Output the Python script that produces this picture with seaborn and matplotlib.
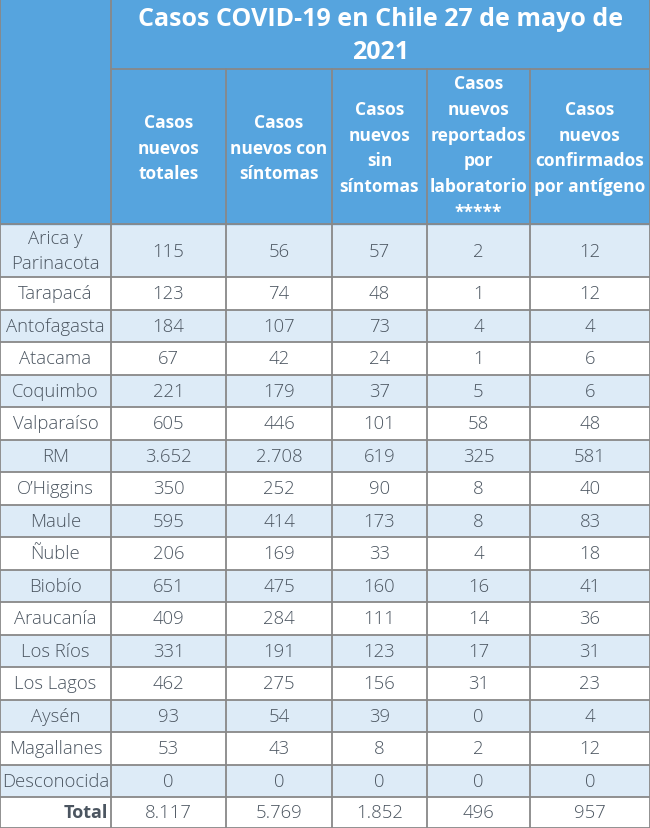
import numpy as np
import seaborn as sns
import matplotlib.pyplot as plt
from matplotlib.colors import ListedColormap

# Tabla de casos COVID-19 por region, 27 de mayo de 2021

regiones = ["Arica y\nParinacota", "Tarapacá", "Antofagasta", "Atacama", "Coquimbo",
            "Valparaíso", "RM", "O’Higgins", "Maule", "Ñuble", "Biobío", "Araucanía",
            "Los Ríos", "Los Lagos", "Aysén", "Magallanes", "Desconocida", "Total"]

columnas = ["Casos\nnuevos\ntotales", "Casos\nnuevos con\nsíntomas",
            "Casos\nnuevos\nsin\nsíntomas",
            "Casos\nnuevos\nreportados\npor\nlaboratorio\n*****",
            "Casos\nnuevos\nconfirmados\npor antígeno"]

totales = [115, 123, 184, 67, 221, 605, 3652, 350, 595, 206, 651, 409, 331, 462, 93, 53, 0, 8117]
con_sintomas = [56, 74, 107, 42, 179, 446, 2708, 252, 414, 169, 475, 284, 191, 275, 54, 43, 0, 5769]
sin_sintomas = [57, 48, 73, 24, 37, 101, 619, 90, 173, 33, 160, 111, 123, 156, 39, 8, 0, 1852]
laboratorio = [2, 1, 4, 1, 5, 58, 325, 8, 8, 4, 16, 14, 17, 31, 0, 2, 0, 496]
antigeno = [12, 12, 4, 6, 6, 48, 581, 40, 83, 18, 41, 36, 31, 23, 4, 12, 0, 957]

titulo = "Casos COVID-19 en Chile 27 de mayo de\n2021"

sns.set_theme(style="white")
plt.rcParams['font.family'] = ['Open Sans', 'DejaVu Sans']

azul = "#56a4de"
celeste = "#ddebf7"
linea = "#888888"
texto = "#4b5560"

# anchos de columna y alto de filas (en pixeles)
anchos = [111, 115, 106, 95, 103, 120]
alto_titulo, alto_header = 70, 155
altos = [53] + [32.5] * 16 + [31]

x_edges = np.concatenate([[0], np.cumsum(anchos)])
y0 = alto_titulo + alto_header
y_edges = y0 + np.concatenate([[0], np.cumsum(altos)])

datos = np.array([totales, con_sintomas, sin_sintomas, laboratorio, antigeno]).T
n = len(regiones)

fig = plt.figure(figsize=(6.5, 8.29), dpi=100)
ax = fig.add_axes([0, 0, 1, 1])

# fondo de filas alternadas
franjas = np.array([[(i + 1) % 2] * 6 for i in range(n)])
ax.pcolormesh(x_edges, y_edges, franjas, cmap=ListedColormap(["white", celeste]),
              vmin=0, vmax=1, shading="flat")

# encabezado
ax.fill_between([0, 650], 0, y0, color=azul, zorder=1)

ax.text((x_edges[1] + 650) / 2, alto_titulo / 2 + 1, titulo, ha="center", va="center",
        color="white", fontsize=18, fontweight="bold", linespacing=1.45, zorder=3)

for j, col in enumerate(columnas):
    cx = (x_edges[j + 1] + x_edges[j + 2]) / 2
    ax.text(cx, alto_titulo + alto_header / 2 + 1, col, ha="center", va="center",
            color="white", fontsize=12.5, fontweight="bold", linespacing=1.55, zorder=3)

# cuerpo
for i, reg in enumerate(regiones):
    cy = (y_edges[i] + y_edges[i + 1]) / 2
    if reg == "Total":
        ax.text(x_edges[1] - 3, cy, reg, ha="right", va="center", color=texto,
                fontsize=13, fontweight="bold", zorder=3)
    else:
        ax.text(x_edges[1] / 2, cy, reg, ha="center", va="center", color=texto,
                fontsize=13.3, fontweight="light", linespacing=1.45, zorder=3)
    for j in range(5):
        cx = (x_edges[j + 1] + x_edges[j + 2]) / 2
        val = f"{datos[i, j]:,}".replace(",", ".")
        ax.text(cx, cy, val, ha="center", va="center", color=texto, fontsize=13.3,
                fontweight="light", zorder=3)

# lineas de la grilla
lw = 1.3
for y in y_edges:
    ax.plot([0, 650], [y, y], color=linea, lw=lw, zorder=2)
ax.plot([x_edges[1], 650], [alto_titulo, alto_titulo], color=linea, lw=lw, zorder=2)
for k, x in enumerate(x_edges):
    if k == 0 or k == 1 or k == len(x_edges) - 1:
        ax.plot([x, x], [0, y_edges[-1]], color=linea, lw=lw, zorder=2)
    else:
        ax.plot([x, x], [alto_titulo, y_edges[-1]], color=linea, lw=lw, zorder=2)
ax.plot([0, 650], [0, 0], color=linea, lw=lw, zorder=2)

ax.set_xlim(0, 650)
ax.set_ylim(829, 0)
ax.axis("off")

plt.savefig("out.png", dpi=100)
